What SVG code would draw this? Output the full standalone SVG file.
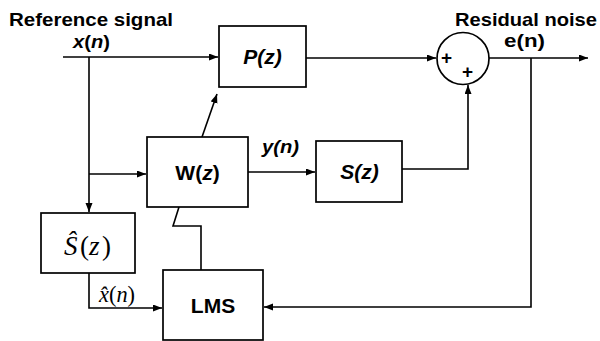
<svg xmlns="http://www.w3.org/2000/svg" width="600" height="341" viewBox="0 0 600 341">
<style>
.box{fill:#fff;stroke:#000;stroke-width:1.7}
.ln{fill:none;stroke:#000;stroke-width:1.6}
.arr{marker-end:url(#ah)}
.t{font-family:"Liberation Sans",Arial,sans-serif;font-weight:bold;font-size:19px;fill:#000}
.b{font-size:21px}
.m{font-family:"Liberation Serif","Times New Roman",serif;fill:#000}
.i{font-style:italic}
</style>
<defs>
<marker id="ah" markerUnits="userSpaceOnUse" markerWidth="10" markerHeight="8" refX="9" refY="3.5" orient="auto">
<path d="M0,0 L9,3.5 L0,7 z" fill="#000"/>
</marker>
</defs>
<rect width="600" height="341" fill="#fff"/>
<g id="connectors">
<path class="ln arr" d="M63,57 H218"/>
<path class="ln arr" d="M89,57 V212"/>
<path class="ln arr" d="M89,174 H146"/>
<path class="ln arr" d="M202,137 L217,94"/>
<path class="ln arr" d="M306,58 H436"/>
<path class="ln arr" d="M489,58 H588"/>
<path class="ln arr" d="M531,58 V307 H264"/>
<path class="ln arr" d="M248,172 H315"/>
<path class="ln arr" d="M402,169 H468 V85"/>
<path class="ln arr" d="M89,273 V308 H162"/>
<path class="ln" d="M201,270 V226 H173 L179,207"/>
</g>
<g id="labels">
<text class="t" x="9" y="26" textLength="164" lengthAdjust="spacingAndGlyphs">Reference signal</text>
<text class="t" x="73" y="48" textLength="37" lengthAdjust="spacingAndGlyphs"><tspan class="i">x</tspan>(<tspan class="i">n</tspan>)</text>
<text class="t" x="455" y="26" textLength="142" lengthAdjust="spacingAndGlyphs">Residual noise</text>
<text class="t" x="504" y="47" textLength="41" lengthAdjust="spacingAndGlyphs">e(n)</text>
<text class="t i" x="262" y="153" textLength="37" lengthAdjust="spacingAndGlyphs">y(n)</text>
<text class="m" x="99" y="302" font-size="23" textLength="36" lengthAdjust="spacingAndGlyphs"><tspan class="i">x̂</tspan>(<tspan class="i">n</tspan>)</text>
</g>
<g id="P">
<rect class="box" x="219" y="26" width="87" height="61"/>
<text class="t b i" x="262.5" y="64" text-anchor="middle">P(z)</text>
</g>
<g id="sum">
<circle class="box" cx="463" cy="58.5" r="26"/>
<text class="t" x="446.5" y="63.5" text-anchor="middle" font-size="17">+</text>
<text class="t" x="467.5" y="78" text-anchor="middle" font-size="17">+</text>
</g>
<g id="W">
<rect class="box" x="147" y="137" width="101" height="70"/>
<text class="t b" x="197.5" y="179.5" text-anchor="middle">W(<tspan class="i">z</tspan>)</text>
</g>
<g id="S">
<rect class="box" x="316" y="141" width="86" height="61"/>
<text class="t b i" x="359.5" y="178.5" text-anchor="middle">S(z)</text>
</g>
<g id="Shat">
<rect class="box" x="41" y="213" width="94" height="60"/>
<text class="m" y="255" font-size="27"><tspan class="i" x="64">Ŝ</tspan><tspan x="80">(</tspan><tspan class="i" x="89">z</tspan><tspan x="102">)</tspan></text>
</g>
<g id="LMS">
<rect class="box" x="163" y="270" width="100" height="70"/>
<text class="t b" x="213" y="312.5" text-anchor="middle">LMS</text>
</g>
</svg>
